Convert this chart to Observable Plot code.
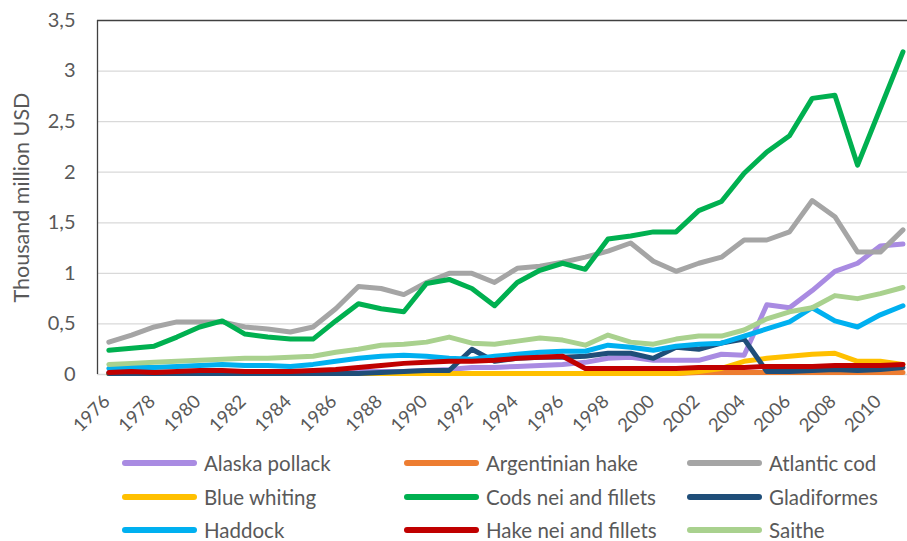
<!DOCTYPE html>
<html>
<head>
<meta charset="utf-8">
<script src="https://cdn.jsdelivr.net/npm/d3@7"></script>
<script src="https://cdn.jsdelivr.net/npm/@observablehq/plot@0.6"></script>
<style>
  html, body { margin: 0; padding: 0; background: #fff; }
  #wrap { position: relative; width: 907px; height: 541px; font-family: Lato, "Open Sans", sans-serif; overflow: hidden; }
  #legend { position: absolute; left: 0; top: 445px; width: 907px; height: 96px; }
  .item { position: absolute; display: flex; align-items: center; height: 24px; }
  .sw { width: 75px; height: 6px; border-radius: 3px; margin-right: 7px; }
  .lab { font-size: 20.5px; color: #595959; white-space: nowrap; }
</style>
</head>
<body>
<div id="wrap"><div id="chart"></div><div id="legend"></div></div>
<script>
const years = [1976,1977,1978,1979,1980,1981,1982,1983,1984,1985,1986,1987,1988,1989,1990,1991,1992,1993,1994,1995,1996,1997,1998,1999,2000,2001,2002,2003,2004,2005,2006,2007,2008,2009,2010,2011];
const xTickLabels = [1976,1978,1980,1982,1984,1986,1988,1990,1992,1994,1996,1998,2000,2002,2004,2006,2008,2010];
const yTicks = [0,0.5,1,1.5,2,2.5,3,3.5];

const seriesNames = ["Alaska pollack","Argentinian hake","Atlantic cod","Blue whiting","Cods nei and fillets","Gladiformes","Haddock","Hake nei and fillets","Saithe"];
const seriesColors = ["#A98BE2","#ED7D31","#A5A5A5","#FFC000","#00B050","#1F4E79","#00B0F0","#C00000","#A9D18E"];

const alaskaPollack = [0.02,0.02,0.02,0.02,0.02,0.02,0.02,0.02,0.02,0.02,0.02,0.03,0.03,0.03,0.04,0.05,0.07,0.07,0.08,0.09,0.10,0.12,0.16,0.17,0.14,0.14,0.14,0.20,0.19,0.69,0.66,0.83,1.02,1.10,1.27,1.29];
const argentinianHake = [0.01,0.01,0.01,0.01,0.01,0.01,0.01,0.01,0.01,0.01,0.01,0.01,0.01,0.01,0.01,0.01,0.01,0.01,0.01,0.01,0.01,0.01,0.01,0.01,0.01,0.01,0.02,0.02,0.02,0.02,0.02,0.02,0.02,0.02,0.02,0.02];
const atlanticCod = [0.32,0.39,0.47,0.52,0.52,0.52,0.47,0.45,0.42,0.47,0.65,0.87,0.85,0.79,0.91,1.00,1.00,0.91,1.05,1.07,1.11,1.16,1.22,1.30,1.12,1.02,1.10,1.16,1.33,1.33,1.41,1.72,1.56,1.21,1.21,1.43];
const blueWhiting = [0.01,0.01,0.01,0.01,0.01,0.01,0.01,0.01,0.01,0.01,0.01,0.01,0.01,0.01,0.01,0.01,0.01,0.01,0.01,0.01,0.01,0.01,0.01,0.01,0.01,0.01,0.03,0.06,0.13,0.16,0.18,0.20,0.21,0.13,0.13,0.10];
const codsNei = [0.24,0.26,0.28,0.37,0.47,0.53,0.40,0.37,0.35,0.35,0.53,0.70,0.65,0.62,0.90,0.94,0.85,0.68,0.91,1.03,1.10,1.04,1.34,1.37,1.41,1.41,1.62,1.71,1.99,2.20,2.36,2.73,2.76,2.07,2.63,3.19];
const gladiformes = [0.01,0.01,0.01,0.01,0.01,0.01,0.01,0.01,0.01,0.01,0.01,0.01,0.02,0.03,0.04,0.04,0.25,0.13,0.16,0.17,0.17,0.18,0.21,0.21,0.16,0.27,0.25,0.31,0.35,0.03,0.03,0.04,0.05,0.04,0.05,0.07];
const haddock = [0.06,0.07,0.07,0.08,0.09,0.10,0.09,0.09,0.08,0.10,0.13,0.16,0.18,0.19,0.18,0.16,0.15,0.18,0.20,0.22,0.23,0.23,0.29,0.27,0.24,0.28,0.30,0.31,0.38,0.45,0.52,0.66,0.53,0.47,0.59,0.68];
const hakeNei = [0.02,0.03,0.02,0.03,0.04,0.04,0.03,0.03,0.03,0.04,0.05,0.07,0.09,0.11,0.12,0.13,0.13,0.14,0.16,0.17,0.18,0.06,0.06,0.06,0.06,0.06,0.07,0.07,0.07,0.08,0.08,0.08,0.09,0.09,0.09,0.10];
const saithe = [0.10,0.11,0.12,0.13,0.14,0.15,0.16,0.16,0.17,0.18,0.22,0.25,0.29,0.30,0.32,0.37,0.31,0.30,0.33,0.36,0.34,0.29,0.39,0.32,0.30,0.35,0.38,0.38,0.44,0.55,0.62,0.66,0.78,0.75,0.80,0.86];

const seriesValues = [alaskaPollack, argentinianHake, atlanticCod, blueWhiting, codsNei, gladiformes, haddock, hakeNei, saithe];

const rows = [];
seriesNames.forEach((name, si) => {
  seriesValues[si].forEach((v, i) => rows.push({series: name, year: years[i], value: v}));
});

const chart = Plot.plot({
  width: 907,
  height: 445,
  marginLeft: 97,
  marginRight: 0,
  marginTop: 20,
  marginBottom: 71,
  style: {fontFamily: "Lato, 'Open Sans', sans-serif", fontSize: "16px", color: "#595959", background: "#fff", overflow: "visible"},
  x: {type: "linear", domain: [1975.5, 2011.2]},
  y: {domain: [0, 3.5]},
  color: {domain: seriesNames, range: seriesColors},
  marks: [
    Plot.ruleY(yTicks.filter(d => d > 0 && d < 3.5), {stroke: "#d9d9d9", strokeWidth: 1.3}),
    Plot.ruleY([0], {stroke: "#d9d9d9", strokeWidth: 1.3}),
    Plot.ruleY([3.5], {stroke: "#404040", strokeWidth: 1.3}),
    Plot.axisY({ticks: yTicks, tickSize: 0, tickPadding: 22, tickFormat: d => String(d).replace(".", ","), fill: "#595959", fontSize: 20, label: null}),
    Plot.axisX({ticks: xTickLabels, tickSize: 0, tickRotate: -45, tickPadding: 24, dx: -2, tickFormat: d => String(d), fill: "#595959", fontSize: 18.5, label: null}),
    Plot.text(["Thousand million USD"], {frameAnchor: "left", textAnchor: "middle", dx: -75, rotate: -90, fill: "#595959", fontSize: 21.5}),
    Plot.line(rows, {x: "year", y: "value", z: "series", stroke: "series", strokeWidth: 5, strokeLinejoin: "round", strokeLinecap: "round", curve: "linear"}),
    Plot.ruleX([1975.5], {stroke: "#404040", strokeWidth: 1.3})
  ]
});
document.getElementById("chart").appendChild(chart);

const legend = document.getElementById("legend");
const colX = [122, 404, 687];
const rowY = [6, 40, 73];
seriesNames.forEach((name, i) => {
  const item = document.createElement("div");
  item.className = "item";
  item.style.left = colX[i % 3] + "px";
  item.style.top = rowY[Math.floor(i / 3)] + "px";
  const sw = document.createElement("div");
  sw.className = "sw";
  sw.style.background = seriesColors[i];
  const lab = document.createElement("span");
  lab.className = "lab";
  lab.textContent = name;
  item.appendChild(sw);
  item.appendChild(lab);
  legend.appendChild(item);
});
</script>
</body>
</html>
